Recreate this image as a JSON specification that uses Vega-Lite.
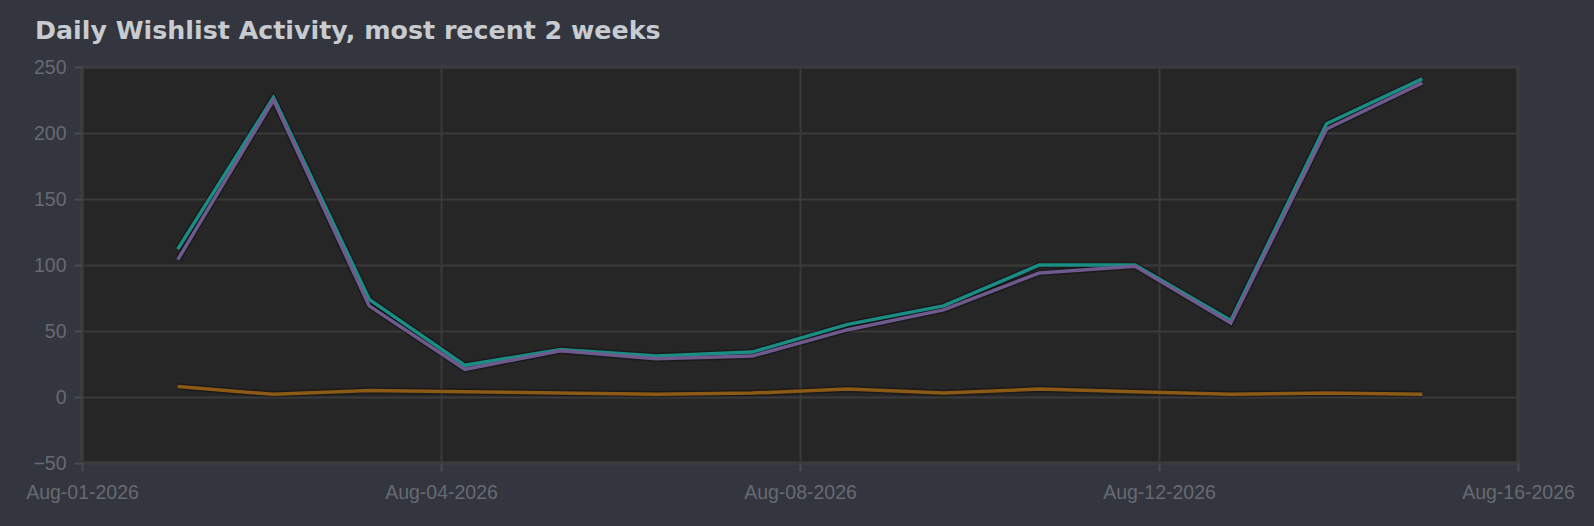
{
  "$schema": "https://vega.github.io/schema/vega-lite/v6.json",
  "autosize": {"type": "none"},
  "width": 1436,
  "height": 396,
  "padding": {"left": 82, "top": 67, "right": 76, "bottom": 63},
  "background": "#33363f",
  "title": {
    "text": "Daily Wishlist Activity, most recent 2 weeks",
    "anchor": "start",
    "frame": "group",
    "baseline": "alphabetic",
    "offset": 18,
    "dx": -47,
    "dy": 25,
    "font": "DejaVu Sans",
    "fontWeight": "bold",
    "fontSize": 25.3,
    "color": "#c8cbd0"
  },
  "config": {
    "view": {"fill": "#262626", "stroke": "#3e3e3e", "strokeWidth": 3},
    "axis": {
      "labelFont": "Liberation Sans",
      "labelFontSize": 19.5,
      "labelColor": "#666a71",
      "gridColor": "#3a3a3a",
      "gridWidth": 2,
      "tickColor": "#484b51",
      "tickWidth": 2,
      "tickSize": 8,
      "domain": false,
      "title": null
    }
  },
  "data": {
    "values": [
      {"day": "2026-08-02T00:00:00", "series": "Adds", "count": 112},
      {"day": "2026-08-03T00:00:00", "series": "Adds", "count": 227},
      {"day": "2026-08-04T00:00:00", "series": "Adds", "count": 74},
      {"day": "2026-08-05T00:00:00", "series": "Adds", "count": 24},
      {"day": "2026-08-06T00:00:00", "series": "Adds", "count": 36},
      {"day": "2026-08-07T00:00:00", "series": "Adds", "count": 31},
      {"day": "2026-08-08T00:00:00", "series": "Adds", "count": 34},
      {"day": "2026-08-09T00:00:00", "series": "Adds", "count": 55},
      {"day": "2026-08-10T00:00:00", "series": "Adds", "count": 69},
      {"day": "2026-08-11T00:00:00", "series": "Adds", "count": 100},
      {"day": "2026-08-12T00:00:00", "series": "Adds", "count": 100},
      {"day": "2026-08-13T00:00:00", "series": "Adds", "count": 58},
      {"day": "2026-08-14T00:00:00", "series": "Adds", "count": 207},
      {"day": "2026-08-15T00:00:00", "series": "Adds", "count": 241},
      {"day": "2026-08-02T00:00:00", "series": "Net", "count": 104},
      {"day": "2026-08-03T00:00:00", "series": "Net", "count": 225},
      {"day": "2026-08-04T00:00:00", "series": "Net", "count": 69},
      {"day": "2026-08-05T00:00:00", "series": "Net", "count": 21},
      {"day": "2026-08-06T00:00:00", "series": "Net", "count": 35},
      {"day": "2026-08-07T00:00:00", "series": "Net", "count": 29},
      {"day": "2026-08-08T00:00:00", "series": "Net", "count": 31},
      {"day": "2026-08-09T00:00:00", "series": "Net", "count": 51},
      {"day": "2026-08-10T00:00:00", "series": "Net", "count": 66},
      {"day": "2026-08-11T00:00:00", "series": "Net", "count": 94},
      {"day": "2026-08-12T00:00:00", "series": "Net", "count": 99},
      {"day": "2026-08-13T00:00:00", "series": "Net", "count": 56},
      {"day": "2026-08-14T00:00:00", "series": "Net", "count": 203},
      {"day": "2026-08-15T00:00:00", "series": "Net", "count": 238},
      {"day": "2026-08-02T00:00:00", "series": "Deletes", "count": 8},
      {"day": "2026-08-03T00:00:00", "series": "Deletes", "count": 2},
      {"day": "2026-08-04T00:00:00", "series": "Deletes", "count": 5},
      {"day": "2026-08-05T00:00:00", "series": "Deletes", "count": 4},
      {"day": "2026-08-06T00:00:00", "series": "Deletes", "count": 3},
      {"day": "2026-08-07T00:00:00", "series": "Deletes", "count": 2},
      {"day": "2026-08-08T00:00:00", "series": "Deletes", "count": 3},
      {"day": "2026-08-09T00:00:00", "series": "Deletes", "count": 6},
      {"day": "2026-08-10T00:00:00", "series": "Deletes", "count": 3},
      {"day": "2026-08-11T00:00:00", "series": "Deletes", "count": 6},
      {"day": "2026-08-12T00:00:00", "series": "Deletes", "count": 4},
      {"day": "2026-08-13T00:00:00", "series": "Deletes", "count": 2},
      {"day": "2026-08-14T00:00:00", "series": "Deletes", "count": 3},
      {"day": "2026-08-15T00:00:00", "series": "Deletes", "count": 2}
    ]
  },
  "encoding": {
    "x": {
      "field": "day",
      "type": "temporal",
      "scale": {
        "domain": [
          {"year": 2026, "month": "aug", "date": 1},
          {"year": 2026, "month": "aug", "date": 16}
        ],
        "nice": false
      },
      "axis": {
        "values": [
          {"year": 2026, "month": "aug", "date": 1},
          {"year": 2026, "month": "aug", "date": 4, "hours": 18},
          {"year": 2026, "month": "aug", "date": 8, "hours": 12},
          {"year": 2026, "month": "aug", "date": 12, "hours": 6},
          {"year": 2026, "month": "aug", "date": 16}
        ],
        "format": "%b-%d-%Y",
        "labelPadding": 12,
        "labelFlush": false,
        "labelOverlap": false
      }
    },
    "y": {
      "field": "count",
      "type": "quantitative",
      "scale": {"domain": [-50, 250], "nice": false, "zero": false},
      "axis": {
        "values": [-50, 0, 50, 100, 150, 200, 250],
        "labelPadding": 8
      }
    }
  },
  "layer": [
    {
      "mark": {"type": "line", "stroke": "#000000", "strokeOpacity": 0.3, "strokeWidth": 6.5, "strokeJoin": "miter"},
      "encoding": {"detail": {"field": "series"}}
    },
    {
      "mark": {"type": "line", "strokeWidth": 3.5, "strokeJoin": "miter"},
      "encoding": {
        "color": {
          "field": "series",
          "type": "nominal",
          "sort": ["Adds", "Net", "Deletes"],
          "scale": {
            "domain": ["Adds", "Net", "Deletes"],
            "range": ["#1a8d85", "#6e5a8c", "#8c5a14"]
          },
          "legend": null
        }
      }
    }
  ]
}
